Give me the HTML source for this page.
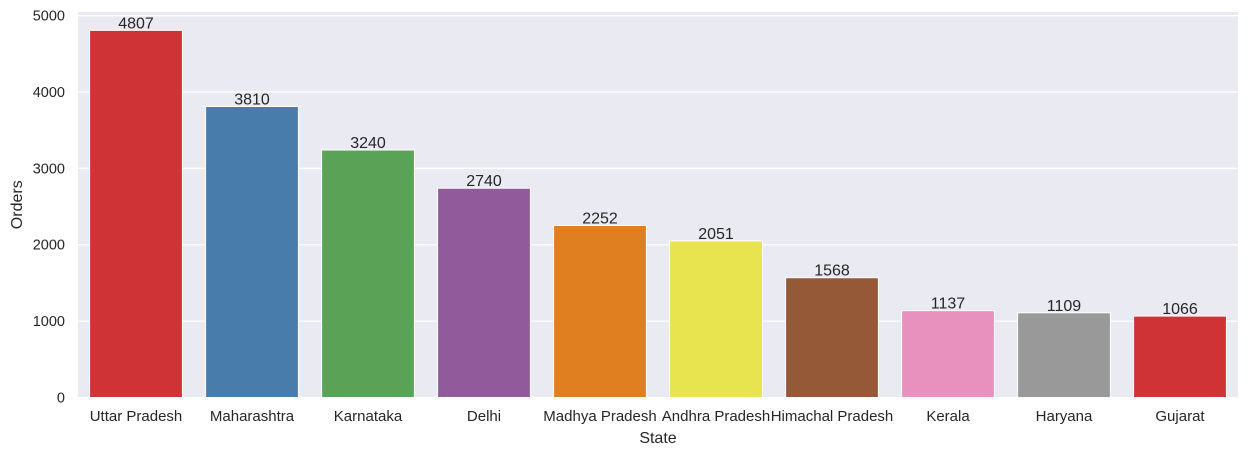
<!DOCTYPE html>
<html><head><meta charset="utf-8"><style>
body{margin:0;background:#fff;font-family:"Liberation Sans","DejaVu Sans",sans-serif;}
svg text{font-family:"Liberation Sans","DejaVu Sans",sans-serif;}
</style></head><body>
<svg id="chart" width="1250" height="454" xmlns="http://www.w3.org/2000/svg"></svg>
<script>
const categories=["Uttar Pradesh","Maharashtra","Karnataka","Delhi","Madhya Pradesh","Andhra Pradesh","Himachal Pradesh","Kerala","Haryana","Gujarat"];
const orders=[4807,3810,3240,2740,2252,2051,1568,1137,1109,1066];
const colors=["#d03336","#477cab","#5aa356","#915a9a","#e07f1f","#e8e450","#955937","#e891be","#999999","#d03336"];
const yTicks=[0,1000,2000,3000,4000,5000];
const L=78,R=1238,T=12,B=397.5;
const ymax=Math.max(...orders)*1.05;
const y=v=>B-(v/ymax)*(B-T);
const step=(R-L)/categories.length;
const xc=i=>L+step*(i+0.5);
const svg=document.getElementById('chart');
const NS="http://www.w3.org/2000/svg";
function mk(t,a,txt){const e=document.createElementNS(NS,t);for(const k in a)e.setAttribute(k,a[k]);if(txt!==undefined)e.textContent=txt;svg.appendChild(e);return e;}
let bg=mk('rect',{x:L,y:T,width:R-L,height:B-T,fill:'#eaeaf2'});


yTicks.forEach(v=>{
 let g=mk('line',{x1:L,x2:R,y1:y(v),y2:y(v),stroke:'#fff','stroke-width':1.2});
 
 
 let t=mk('text',{x:L-13,y:y(v)+5,'text-anchor':'end','font-size':14.5,fill:'#262626'},v);
 
 
});
categories.forEach((c,i)=>{
 const w=step*0.8;
 let r=mk('rect',{x:xc(i)-w/2,y:y(orders[i]),width:w,height:B-y(orders[i]),fill:colors[i],stroke:'#fff','stroke-width':1});
 
 
 let v=mk('text',{x:xc(i),y:y(orders[i])-2,'text-anchor':'middle','font-size':16,fill:'#262626'},orders[i]);
 
 
 let t=mk('text',{x:xc(i),y:421,'text-anchor':'middle','font-size':15,fill:'#262626'},c);
 
 
});
let xt=mk('text',{x:(L+R)/2,y:443,'text-anchor':'middle','font-size':16,fill:'#262626'},'State');


let yt=mk('text',{x:22,y:(T+B)/2,'text-anchor':'middle','font-size':16,fill:'#262626',transform:`rotate(-90 22 ${(T+B)/2})`},'Orders');


</script>
</body></html>
